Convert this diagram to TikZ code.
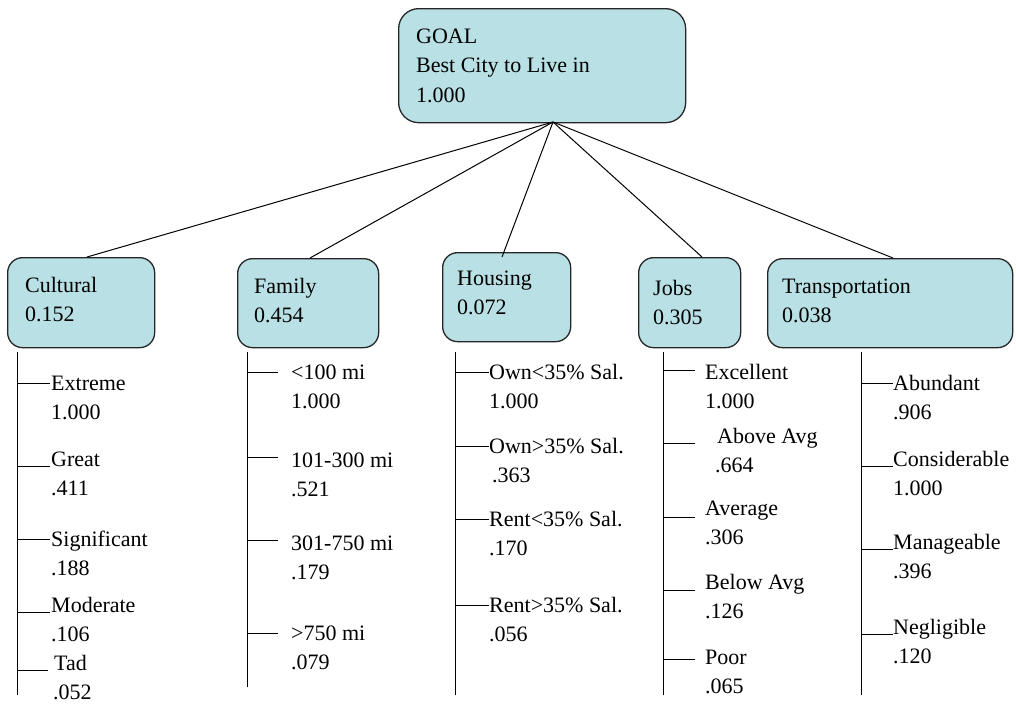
\documentclass[tikz,border=0pt]{standalone}
\usepackage{fontspec}
\setmainfont{Liberation Serif}
\definecolor{boxfill}{RGB}{185,224,228}
\newcommand\itm[4]{\node[txt] (#1) at (#2) {\begin{tabular}[t]{@{}l@{}}#3\\#4\end{tabular}};}
\begin{document}
\begin{tikzpicture}[x=1pt,y=-1pt,
  box/.style={draw=black!85, line width=1.3pt, fill=boxfill, rounded corners=15pt, anchor=north west, inner sep=0pt},
  txt/.style={anchor=base west, inner sep=0pt, font=\fontsize{22}{29.5}\selectfont},
  conn/.style={line width=1pt, black}]
\useasboundingbox (0,0) rectangle (1016,705);

% boxes
\node[box, rounded corners=20pt, minimum width=287pt, minimum height=114pt] (goal) at (398,8) {};
\node[box, minimum width=147pt, minimum height=90pt] (cult) at (7,257) {};
\node[box, minimum width=141pt, minimum height=89pt] (fam) at (237,258) {};
\node[box, minimum width=128pt, minimum height=89pt] (hous) at (442,252) {};
\node[box, minimum width=102pt, minimum height=90pt] (jobs) at (638,257) {};
\node[box, minimum width=245pt, minimum height=89pt] (trans) at (767,258) {};

% connectors
\coordinate (hub) at (553,122);
\coordinate (cultin) at (87,257);
\coordinate (famin) at (310,258);
\coordinate (housin) at (502,257);
\coordinate (jobsin) at (702,257);
\coordinate (transin) at (893,258);
\foreach \t in {cultin,famin,housin,jobsin,transin}{\draw[conn] (hub) -- (\t);}

% box texts
\node[txt] (goalt) at (416,43) {\begin{tabular}[t]{@{}l@{}}GOAL\\Best City to Live in\\1.000\end{tabular}};
\itm{cultt}{25,292}{Cultural}{0.152}
\itm{famt}{254,293}{Family}{0.454}
\itm{houst}{457,285}{Housing}{0.072}
\itm{jobst}{653,295}{Jobs}{0.305}
\itm{transt}{782,293}{Transportation}{0.038}

% trunks
\coordinate (c0) at (17,352);  \coordinate (c1) at (17,695);
\coordinate (f0) at (247,352); \coordinate (f1) at (247,687);
\coordinate (h0) at (455,352); \coordinate (h1) at (455,695);
\coordinate (j0) at (663,352); \coordinate (j1) at (663,695);
\coordinate (t0) at (861,352); \coordinate (t1) at (861,695);
\draw[conn] (c0) -- (c1);
\draw[conn] (f0) -- (f1);
\draw[conn] (h0) -- (h1);
\draw[conn] (j0) -- (j1);
\draw[conn] (t0) -- (t1);

% cultural items
\draw[conn] (17,383) -- (50,383); \itm{ce}{51,390}{Extreme}{1.000}
\draw[conn] (17,466) -- (50,466); \itm{cg}{51,466}{Great}{.411}
\draw[conn] (17,539) -- (50,539); \itm{cs}{51,546}{Significant}{.188}
\draw[conn] (17,612) -- (50,612); \itm{cm}{51,612}{Moderate}{.106}
\draw[conn] (17,670) -- (48,670); \itm{ct}{54,670}{Tad}{\hspace{-1pt}.052}

% family items
\draw[conn] (247,372) -- (278,372); \itm{f1t}{291,379}{<100 mi}{1.000}
\draw[conn] (247,457) -- (278,457); \itm{f2t}{291,467}{101-300 mi}{.521}
\draw[conn] (247,540) -- (278,540); \itm{f3t}{291,550}{301-750 mi}{.179}
\draw[conn] (247,633) -- (278,633); \itm{f4t}{291,640}{>750 mi}{.079}

% housing items
\draw[conn] (455,372) -- (489,372); \itm{h1t}{489,379}{Own<35\% Sal.}{1.000}
\draw[conn] (455,446) -- (489,446); \itm{h2t}{489,453}{Own>35\% Sal.}{\hspace{3pt}.363}
\draw[conn] (455,519) -- (489,519); \itm{h3t}{489,526}{Rent<35\% Sal.}{.170}
\draw[conn] (455,605) -- (489,605); \itm{h4t}{489,612}{Rent>35\% Sal.}{.056}

% jobs items
\draw[conn] (663,370) -- (695,370); \itm{j1t}{705,379}{Excellent}{1.000}
\draw[conn] (663,443) -- (695,443); \itm{j2t}{717,443}{Above Avg}{\hspace{-2pt}.664}
\draw[conn] (663,517) -- (695,517); \itm{j3t}{705,515}{Average}{.306}
\draw[conn] (663,590) -- (695,590); \itm{j4t}{705,589}{Below Avg}{.126}
\draw[conn] (663,659) -- (695,659); \itm{j5t}{705,664}{Poor}{.065}

% transportation items
\draw[conn] (861,383) -- (893,383); \itm{t1t}{893,390}{Abundant}{.906}
\draw[conn] (861,466) -- (893,466); \itm{t2t}{893,466}{Considerable}{1.000}
\draw[conn] (861,549) -- (893,549); \itm{t3t}{893,549}{Manageable}{.396}
\draw[conn] (861,634) -- (893,634); \itm{t4t}{893,634}{Negligible}{.120}
\end{tikzpicture}
\end{document}
